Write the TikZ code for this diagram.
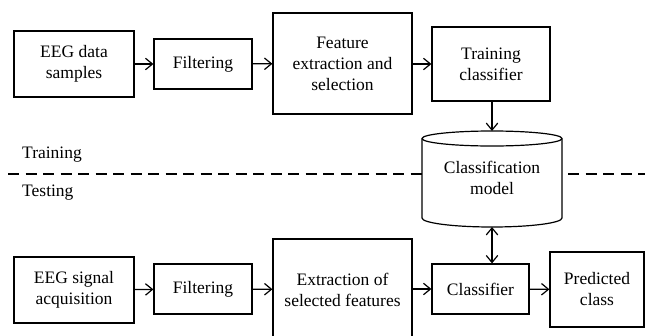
\documentclass[tikz,border=0pt]{standalone}
\usepackage{fontspec}
\setmainfont{Liberation Serif}
\newfontfamily\diagfont{Liberation Serif}
\usetikzlibrary{arrows.meta}
\begin{document}
\begin{tikzpicture}[x=1pt,y=1pt,
  font=\diagfont\fontsize{17.5}{21}\selectfont,
  box/.style={draw, line width=1.2pt, align=center, inner sep=0pt, fill=white},
  tip/.tip={Straight Barb[length=7pt,width=11.5pt,line width=1.2pt]},
  arr/.style={line width=1.2pt, -tip},
  dbl/.style={line width=1.2pt, tip-tip},
  sep/.style={line width=1.2pt, dash pattern=on 11pt off 6.5pt},
  lbl/.style={anchor=west, inner sep=0pt}]
\useasboundingbox (0,0) rectangle (645,-335);

% separator
\draw[sep] (8,-174) -- (645,-174);
\node[lbl] (trl) at (22,-155) {Training};
\node[lbl] (tel) at (22,-193) {Testing};

% training row
\node[box, minimum width=120pt, minimum height=66pt] (eeg1) at (74,-64) {EEG data\\samples};
\node[box, minimum width=98pt, minimum height=50pt] (filt1) at (203,-64) {Filtering};
\node[box, minimum width=139pt, minimum height=101pt] (feat) at (342.5,-63.5) {Feature\\extraction and\\selection};
\node[box, minimum width=118pt, minimum height=74pt] (train) at (491,-64) {Training\\classifier};

% cylinder
\coordinate (cyltop) at (492,-131);
\coordinate (cylbot) at (492,-227);
\draw[line width=1.2pt, fill=white]
  (422,-138.5) -- (422,-218) arc[start angle=180, end angle=360, x radius=70, y radius=9]
  -- (562,-138.5) arc[start angle=0, end angle=180, x radius=70, y radius=7.5] -- cycle;
\draw[line width=1.2pt] (422,-138.5) arc[start angle=180, end angle=360, x radius=70, y radius=7.5];
\node[align=center, inner sep=0pt] (cyl) at (492,-178) {Classification\\model};

% testing row
\node[box, minimum width=120pt, minimum height=66pt] (eeg2) at (74,-290) {EEG signal\\acquisition};
\node[box, minimum width=98pt, minimum height=50pt] (filt2) at (203,-289) {Filtering};
\node[box, minimum width=139pt, minimum height=101pt] (extr) at (342.5,-289.5) {Extraction of\\selected features};
\node[box, minimum width=97pt, minimum height=50pt] (clf) at (480.5,-289) {Classifier};
\node[box, minimum width=94pt, minimum height=75pt] (pred) at (597,-289.5) {Predicted\\class};

% arrows
\draw[arr] (eeg1) -- (filt1);
\draw[arr] (filt1) -- (feat);
\draw[arr] (feat.east |- train.west) -- (train.west);
\draw[arr] (cyltop |- train.south) -- (cyltop);
\draw[arr] (eeg2) -- (filt2);
\draw[arr] (filt2) -- (extr);
\draw[arr] (extr.east |- clf.west) -- (clf.west);
\draw[arr] (clf) -- (pred);
\draw[dbl] (cylbot) -- (cylbot |- clf.north);
\end{tikzpicture}
\end{document}
